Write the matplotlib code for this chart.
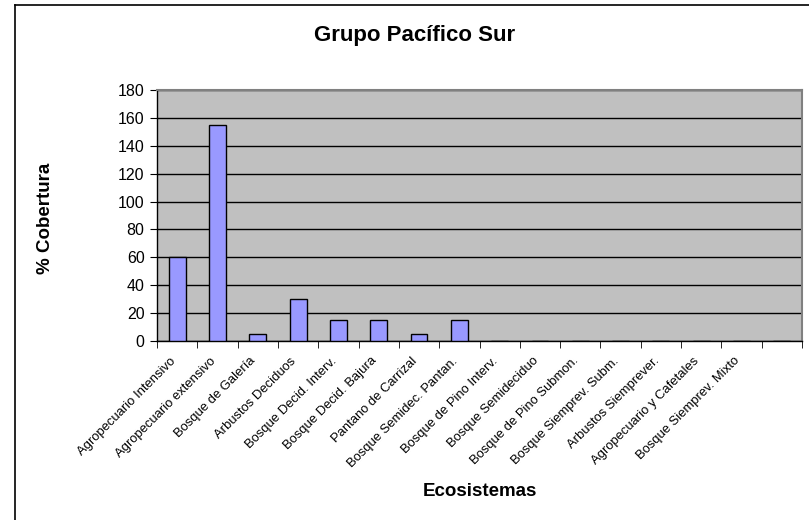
import numpy as np
import matplotlib
matplotlib.use("Agg")
import matplotlib.pyplot as plt
from matplotlib.lines import Line2D
from matplotlib.transforms import ScaledTranslation

plt.rcParams['font.family'] = ['Liberation Sans', 'DejaVu Sans']

# Cobertura por ecosistema
ecosistemas = [
    'Agropecuario Intensivo', 'Agropecuario extensivo', 'Bosque de Galería',
    'Arbustos Deciduos', 'Bosque Decid. Interv.', 'Bosque Decid. Bajura',
    'Pantano de Carrizal', 'Bosque Semidec. Pantan.', 'Bosque de Pino Interv.',
    'Bosque Semideciduo', 'Bosque de Pino Submon.', 'Bosque Siemprev. Subm.',
    'Arbustos Siemprever.', 'Agropecuario y Cafetales', 'Bosque Siemprev. Mixto',
    '',
]
cobertura = [60, 155, 5, 30, 15, 15, 5, 15, 0, 0, 0, 0, 0, 0, 0, 0]
y_ticks = [0, 20, 40, 60, 80, 100, 120, 140, 160, 180]

W, H = 809, 520
fig = plt.figure(figsize=(W / 100, H / 100), dpi=100)

# marco del grafico (solo bordes izquierdo y superior visibles)
fig.add_artist(Line2D([15.5 / W, 15.5 / W], [0, 1 - 4.5 / H], color='black', lw=1.2,
                      transform=fig.transFigure))
fig.add_artist(Line2D([15.5 / W, 1], [1 - 4.5 / H, 1 - 4.5 / H], color='black', lw=1.2,
                      transform=fig.transFigure))

left, right, top, bottom = 157, 802, 90, 341
ax = fig.add_axes([left / W, 1 - bottom / H, (right - left) / W, (bottom - top) / H])
ax.set_facecolor('#C0C0C0')

x = np.arange(len(ecosistemas))
ax.bar(x, cobertura, width=0.42, color='#9999FF', edgecolor='black', linewidth=1, zorder=3)

ax.set_xlim(-0.5, len(ecosistemas) - 0.5)
ax.set_ylim(0, 180)
ax.set_yticks(y_ticks)
ax.yaxis.grid(True, color='black', linewidth=1)
ax.set_axisbelow(True)

ax.set_xticks(x)
ax.set_xticks(np.arange(len(ecosistemas) + 1) - 0.5, minor=True)
ax.tick_params(axis='x', which='major', length=0, pad=10)
ax.tick_params(axis='x', which='minor', length=5, direction='out', color='black')
ax.tick_params(axis='y', length=5, direction='out', labelsize=11.5, pad=4)
ax.set_xticklabels(ecosistemas, rotation=45, ha='right', va='top',
                   rotation_mode='anchor', fontsize=9.4)

# desplazar las etiquetas rotadas un poco a la izquierda
shift = ScaledTranslation(-0.08, 0, fig.dpi_scale_trans)
for lbl in ax.xaxis.get_majorticklabels():
    lbl.set_transform(lbl.get_transform() + shift)

for s in ['top', 'right']:
    ax.spines[s].set_color('#808080')
    ax.spines[s].set_linewidth(1.5)
for s in ['left', 'bottom']:
    ax.spines[s].set_color('black')
    ax.spines[s].set_linewidth(1)

ax.set_ylabel('% Cobertura', fontsize=13.5, fontweight='bold')
ax.yaxis.set_label_coords((46 - left) / (right - left), 0.49)
ax.set_xlabel('Ecosistemas', fontsize=13.5, fontweight='bold')
ax.xaxis.set_label_coords((480 - left) / (right - left), (bottom - 491) / (bottom - top))
ax.xaxis.label.set_va('center')
ax.yaxis.label.set_va('center')

fig.text(415 / W, 1 - 35 / H, 'Grupo Pacífico Sur', fontsize=16, fontweight='bold',
         ha='center', va='center')

fig.savefig('out.png', dpi=100)
